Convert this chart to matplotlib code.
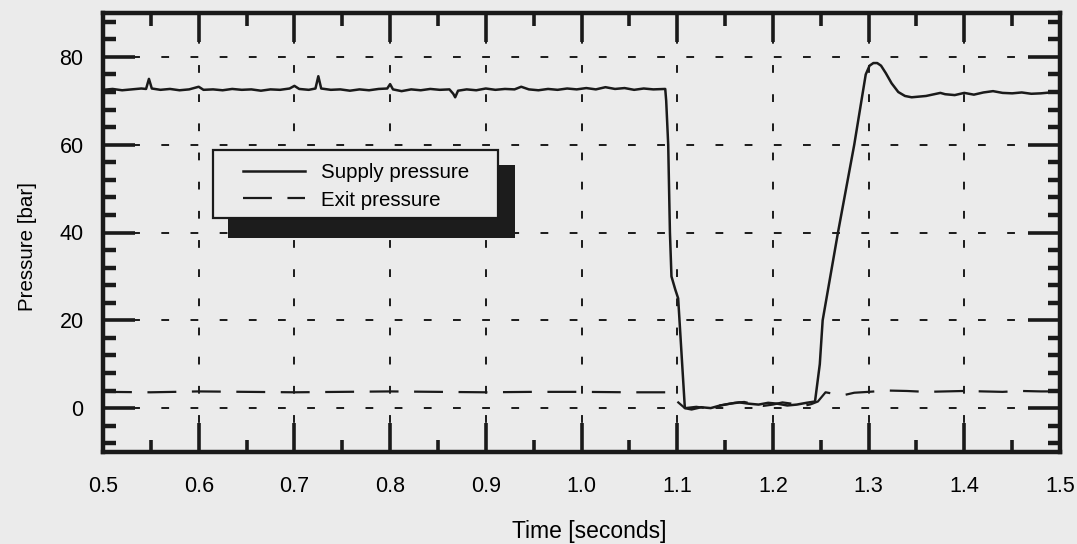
import matplotlib
matplotlib.use("Agg")
import matplotlib.pyplot as plt
from matplotlib.patches import Rectangle
from matplotlib.ticker import MultipleLocator, FixedLocator

plt.rcParams['font.family'] = ['Liberation Sans', 'DejaVu Sans']

# ---- data ----
supply_t = [0.500, 0.510, 0.520, 0.530, 0.540, 0.545, 0.548, 0.551, 0.560, 0.570,
            0.580, 0.590, 0.600, 0.605, 0.615, 0.625, 0.635, 0.645, 0.655, 0.665,
            0.675, 0.685, 0.695, 0.700, 0.705, 0.715, 0.722, 0.725, 0.728, 0.738,
            0.748, 0.758, 0.768, 0.778, 0.788, 0.797, 0.800, 0.803, 0.812, 0.822,
            0.832, 0.842, 0.852, 0.862, 0.866, 0.868, 0.871, 0.880, 0.890, 0.900,
            0.910, 0.920, 0.930, 0.937, 0.945, 0.955, 0.965, 0.975, 0.985, 0.995,
            1.005, 1.015, 1.025, 1.035, 1.045, 1.055, 1.065, 1.075, 1.0875,
            1.0885, 1.0906, 1.0924, 1.094, 1.098, 1.101, 1.108,
            1.115, 1.125, 1.135, 1.145, 1.155, 1.165, 1.175, 1.185, 1.195, 1.205,
            1.215, 1.225, 1.235, 1.244,
            1.249, 1.252, 1.268, 1.285, 1.297, 1.301, 1.305, 1.309, 1.313, 1.318,
            1.324, 1.331, 1.338, 1.345, 1.360, 1.375, 1.380, 1.390, 1.400, 1.410,
            1.420, 1.430, 1.440, 1.450, 1.460, 1.470, 1.480, 1.490, 1.500]
supply_p = [72.5, 72.7, 72.4, 72.6, 72.8, 72.7, 75.0, 72.8, 72.5, 72.7,
            72.4, 72.6, 73.2, 72.5, 72.6, 72.4, 72.7, 72.5, 72.6, 72.3,
            72.6, 72.5, 72.8, 73.4, 72.7, 72.5, 72.8, 75.6, 72.8, 72.5,
            72.6, 72.3, 72.6, 72.4, 72.7, 72.8, 73.8, 72.6, 72.2, 72.6,
            72.4, 72.7, 72.5, 72.6, 71.6, 70.8, 72.3, 72.6, 72.4, 72.8,
            72.5, 72.7, 72.6, 73.2, 72.6, 72.4, 72.7, 72.5, 72.8, 72.6,
            72.9, 72.6, 73.1, 72.7, 72.9, 72.5, 72.8, 72.6, 72.7,
            70.0, 60.0, 40.0, 30.0, 27.0, 25.0, 0.0,
            -0.3, 0.2, 0.0, 0.6, 1.0, 1.3, 1.0, 0.8, 1.2, 1.0,
            0.6, 0.8, 1.2, 1.5,
            10.0, 20.0, 40.0, 60.0, 76.0, 78.0, 78.6, 78.6, 78.0, 76.3,
            74.0, 72.0, 71.1, 70.8, 71.1, 71.8, 71.5, 71.3, 71.8, 71.4,
            71.9, 72.2, 71.8, 71.7, 71.9, 71.6, 71.7, 71.9, 71.8]

exit_t = [0.500, 0.550, 0.600, 0.650, 0.700, 0.750, 0.800, 0.850, 0.900, 0.950,
          1.000, 1.050, 1.088, 1.100, 1.108, 1.120, 1.130, 1.140, 1.150, 1.160,
          1.170, 1.180, 1.190, 1.200, 1.210, 1.220, 1.230, 1.240, 1.247, 1.255,
          1.265, 1.275, 1.285, 1.300, 1.320, 1.340, 1.360, 1.380, 1.400, 1.420,
          1.440, 1.460, 1.480, 1.500]
exit_p = [3.7, 3.6, 3.8, 3.7, 3.6, 3.7, 3.8, 3.7, 3.6, 3.7,
          3.7, 3.6, 3.6, 1.5, 0.0, 0.3, 0.0, 0.4, 0.8, 1.2,
          1.4, 0.9, 0.5, 0.8, 1.3, 1.0, 0.4, 0.9, 1.5, 3.6,
          3.2, 3.0, 3.5, 3.7, 4.0, 3.9, 3.7, 3.8, 3.9, 3.8,
          3.7, 3.9, 3.8, 3.8]

series_labels = ["Supply pressure", "Exit pressure"]
x_major = [0.5, 0.6, 0.7, 0.8, 0.9, 1.0, 1.1, 1.2, 1.3, 1.4, 1.5]
y_major = [0, 20, 40, 60, 80]

BG = '#ebebeb'
W, H = 1077, 544
fig = plt.figure(figsize=(W / 100, H / 100), dpi=100, facecolor=BG)
L, R, T, B = 103, 1060, 13, 452
ax = fig.add_axes([L / W, 1 - B / H, (R - L) / W, (B - T) / H], facecolor=BG)

ax.set_xlim(0.5, 1.5)
ax.set_ylim(-10, 90)

l1, = ax.plot(supply_t, supply_p, color='#1a1a1a', lw=1.8, solid_joinstyle='round', zorder=3)
l2, = ax.plot(exit_t, exit_p, color='#1a1a1a', lw=1.6, zorder=3,
              linestyle=(0, (13, 7)))

ax.xaxis.set_major_locator(FixedLocator(x_major))
ax.xaxis.set_minor_locator(MultipleLocator(0.05))
ax.yaxis.set_major_locator(FixedLocator(y_major))
ax.yaxis.set_minor_locator(MultipleLocator(4))
ax.set_xticklabels([f"{v:.1f}" for v in x_major])
ax.set_yticklabels([str(v) for v in y_major])

ax.tick_params(which='major', axis='x', direction='in', length=21, width=2.6,
               top=True, bottom=True, pad=17, labelsize=15.5, color='#1a1a1a')
ax.tick_params(which='minor', axis='x', direction='in', length=9, width=2.6,
               top=True, bottom=True, color='#1a1a1a')
ax.tick_params(which='major', axis='y', direction='in', length=23, width=2.6,
               left=True, right=True, pad=14, labelsize=15.5, color='#1a1a1a')
ax.tick_params(which='minor', axis='y', direction='in', length=9, width=3.2,
               left=True, right=True, color='#1a1a1a')

ax.grid(True, which='major', color='#1a1a1a', linestyle=(0, (4, 11)), lw=1.4, zorder=1)
ax.set_axisbelow(True)
for s in ax.spines.values():
    s.set_linewidth(3.2)
    s.set_color('#1a1a1a')

ax.set_xlabel("Time [seconds]", fontsize=16.5)
ax.set_ylabel("Pressure [bar]", fontsize=14.8)
ax.xaxis.set_label_coords(0.508, -0.155)
ax.yaxis.set_label_coords(-0.069, 0.469)

# legend shadow + frame (figure pixel coordinates)
def fig_rect(x0, y0, x1, y1, **kw):
    return Rectangle((x0 / W, 1 - y1 / H), (x1 - x0) / W, (y1 - y0) / H,
                     transform=fig.transFigure, clip_on=False, **kw)

ax.add_patch(fig_rect(228, 165, 515, 238, facecolor='#1c1c1c', edgecolor='none', zorder=6))
ax.add_patch(fig_rect(213, 150, 498, 218, facecolor=BG, edgecolor='#1a1a1a', lw=1.6, zorder=7))

leg = ax.legend([l1, l2], series_labels, loc='upper left',
                bbox_to_anchor=(243 / W, 1 - 163 / H), bbox_transform=fig.transFigure,
                frameon=False, borderpad=0, borderaxespad=0, handlelength=3.0,
                handletextpad=0.8, labelspacing=0.42, fontsize=14.8)
leg.set_zorder(8)

fig.savefig("out.png", dpi=100, facecolor=BG)
